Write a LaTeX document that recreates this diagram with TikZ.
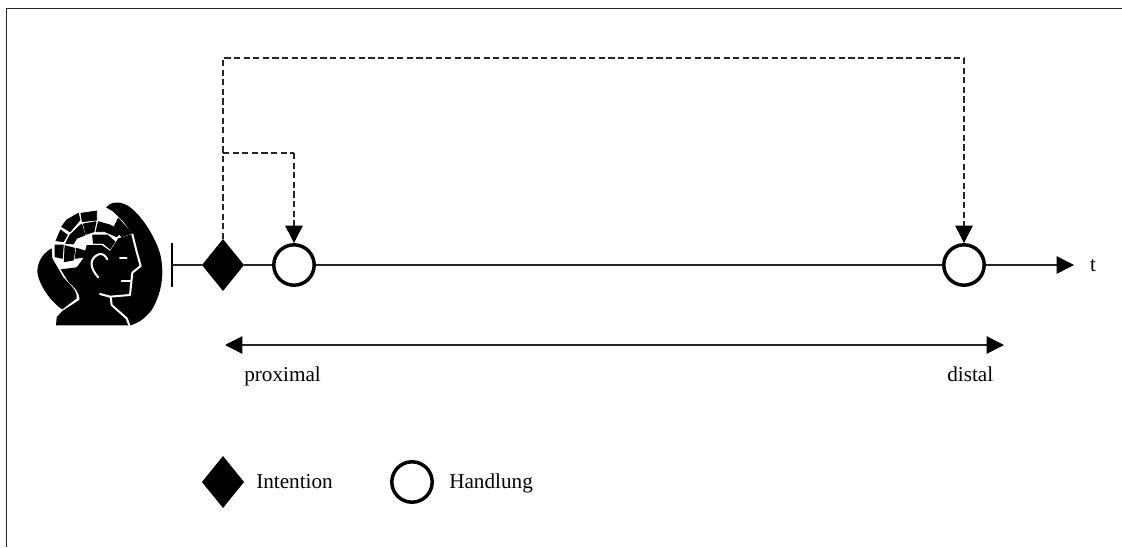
\documentclass[tikz,border=0pt]{standalone}
\usepackage{fontspec}
\setmainfont{Liberation Serif}
\usetikzlibrary{positioning,shapes.geometric,arrows.meta}

\tikzset{
  intentionnode/.style={diamond,fill=black,draw=none,inner sep=0pt,outer sep=0pt,aspect=1,minimum width=31.5pt,minimum height=39pt},
  handlungnode/.style={circle,draw=black,fill=white,line width=2.6pt,inner sep=0pt,outer sep=1.3pt,minimum size=30.3pt},
  labeltext/.style={inner sep=0pt,text=black,font=\fontsize{15.9}{20}\selectfont},
  timeline/.style={line width=1.1pt,black!85},
  dashline/.style={line width=0.85pt,dash pattern=on 4.6pt off 2.6pt,black!85},
  bigtip/.style={-{Triangle[length=13pt,width=13pt,color=black]}},
  bothtips/.style={{Triangle[length=13pt,width=13pt,color=black]}-{Triangle[length=13pt,width=13pt,color=black]}},
  headtile/.style={fill=black,draw=black,line width=0.6pt,line join=round},
  gapline/.style={white,line width=1.5pt,line join=round,line cap=round}
}

\begin{document}
\begin{tikzpicture}[x=0.75pt,y=-0.75pt]
  \useasboundingbox (0,0) rectangle (1122,547);

  % Frame
  \coordinate (framea) at (6.5,547);
  \coordinate (frameb) at (6.5,8.5);
  \coordinate (framec) at (1122,8.5);
  \draw[line width=1.1pt,black!85] (framea) -- (frameb) -- (framec);

  % Head
  \begin{scope}[shift={(20,180)},x=0.25pt,y=-0.25pt]
    \fill (258,82) .. controls (270,68) and (295,60) .. (325,78)
      .. controls (365,105) and (405,170) .. (420,220)
      .. controls (435,280) and (425,340) .. (395,390)
      .. controls (375,415) and (355,430) .. (330,436)
      -- (108,436) -- (110,412) -- (127,393) -- (178,360)
      .. controls (180,335) and (160,320) .. (145,305)
      -- (122,268) -- (170,262) -- (190,235) -- (200,195) -- (245,195)
      -- (270,213) -- (295,175) -- (337,162) -- (310,125) -- (280,95) -- cycle;
    % Back of the hair
    \fill (95,205) .. controls (70,218) and (52,245) .. (52,275)
      .. controls (55,310) and (90,365) .. (127,388)
      -- (170,355) .. controls (172,330) and (150,315) .. (130,292)
      -- (97,235) -- cycle;
    % Outer ring
    \path[headtile] (125,140) -- (140,120) -- (175,100) -- (180,120) -- (150,155) -- cycle;
    \path[headtile] (183,100) -- (230,93) -- (230,120) -- (187,125) -- cycle;
    \path[headtile] (122,150) -- (142,165) -- (130,185) -- (108,182) -- cycle;
    \path[headtile] (105,195) -- (130,195) -- (127,235) -- (105,230) -- cycle;
    % Inner ring
    \path[headtile] (137,190) -- (150,165) -- (185,132) -- (195,165) -- (170,175) -- (160,192) -- cycle;
    \path[headtile] (190,132) -- (228,125) -- (222,155) -- (198,163) -- cycle;
    \path[headtile] (235,125) -- (270,135) -- (305,155) -- (290,170) -- (255,155) -- (228,155) -- cycle;
    \path[headtile] (135,197) -- (165,205) -- (160,240) -- (133,245) -- cycle;
    \path[headtile] (170,205) -- (195,213) -- (190,232) -- (165,235) -- cycle;
    \path[headtile] (218,165) -- (262,165) -- (285,185) -- (270,207) -- (250,190) -- (220,190) -- cycle;
    \path[headtile] (295,115) -- (335,160) -- (305,170) -- (280,145) -- cycle;
    % Face
    \draw[gapline] (337,163) -- (350,215) -- (362,258) -- (337,278) -- (330,345) -- (270,350) -- (240,342);
    \draw[gapline] (272,350) -- (275,375) -- (320,415) -- (328,436);
    \draw[gapline] (235,292) .. controls (210,265) and (205,235) .. (238,222) .. controls (250,220) and (258,230) .. (262,238);
    \draw[gapline] (300,233) -- (320,233);
    \draw[gapline] (305,302) -- (331,302);
  \end{scope}

  % Time line
  \coordinate (tickup) at (172,243);
  \coordinate (tickdown) at (172,287);
  \coordinate (tickmid) at (172,265);
  \node[intentionnode] (intent) at (223,265) {};
  \node[handlungnode] (nearact) at (294,265) {};
  \node[handlungnode] (faract) at (964,265) {};
  \coordinate (timeend) at (1074,265);
  \node[labeltext,anchor=center] (timelabel) at (1093,266) {t};
  \draw[line width=1.5pt] (tickup) -- (tickdown);
  \draw[timeline] (tickmid) -- (intent);
  \draw[timeline] (intent) -- (nearact);
  \draw[timeline] (nearact) -- (faract);
  \draw[timeline,bigtip] (faract) -- (timeend);

  % Dashed links
  \coordinate (farup) at (223,58);
  \coordinate (farright) at (964,58);
  \coordinate (nearup) at (223,153);
  \coordinate (nearright) at (294,153);
  \draw[dashline] (intent.north) -- (farup) -- (farright);
  \draw[dashline,bigtip] (farright) -- (faract.north);
  \draw[dashline] (nearup) -- (nearright);
  \draw[dashline,bigtip] (nearright) -- (nearact.north);

  % Range
  \coordinate (rangeleft) at (225,345);
  \coordinate (rangeright) at (1004,345);
  \draw[timeline,bothtips] (rangeleft) -- (rangeright);
  \node[labeltext,anchor=base west] (proxlabel) at (244,381) {proximal};
  \node[labeltext,anchor=base west] (distlabel) at (947,381) {distal};

  % Legend
  \node[intentionnode] (legendintent) at (223,482) {};
  \node[labeltext,anchor=base west] (legendtextone) at (256,488) {Intention};
  \node[handlungnode] (legendact) at (412,482) {};
  \node[labeltext,anchor=base west] (legendtexttwo) at (449,488) {Handlung};
\end{tikzpicture}
\end{document}
